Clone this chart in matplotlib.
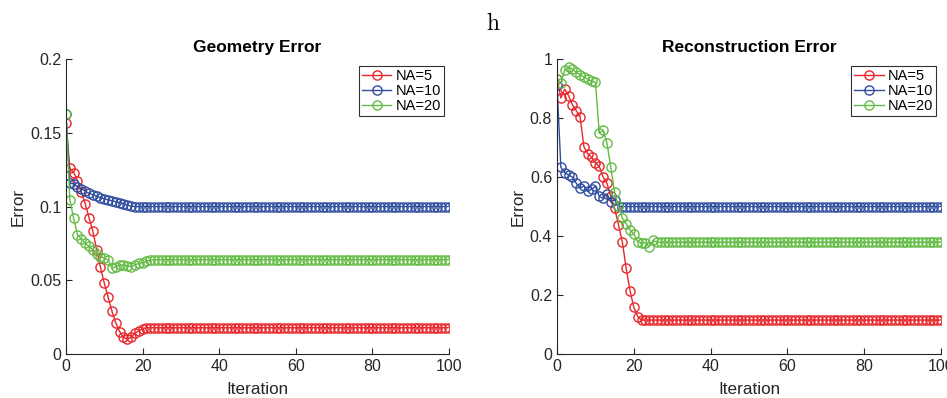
import numpy as np
import matplotlib
matplotlib.use("Agg")
import matplotlib.pyplot as plt

iterations = np.arange(0, 101)

# Geometry error (left panel)
geo_na5_head = [0.1566, 0.126, 0.123, 0.1176, 0.110, 0.102, 0.0925, 0.0835, 0.0706, 0.0588,
                0.048, 0.0385, 0.029, 0.021, 0.0152, 0.0113, 0.010, 0.0113, 0.014, 0.0158,
                0.0172, 0.0178]
geo_na5_tail = 0.0178
geo_na10_head = [0.163, 0.1158, 0.1154, 0.1135, 0.112, 0.1105, 0.109, 0.108, 0.107, 0.106,
                 0.1053, 0.1045, 0.104, 0.1032, 0.1025, 0.102, 0.101, 0.1003, 0.1]
geo_na10_tail = 0.1
geo_na20_head = [0.163, 0.1045, 0.092, 0.0808, 0.078, 0.075, 0.073, 0.0706, 0.068, 0.066,
                 0.065, 0.0638, 0.058, 0.0593, 0.0604, 0.0604, 0.0597, 0.0593, 0.0604, 0.0615,
                 0.062, 0.063, 0.0636, 0.064]
geo_na20_tail = 0.064

# Reconstruction error (right panel)
rec_na5_head = [0.932, 0.868, 0.898, 0.876, 0.845, 0.825, 0.805, 0.703, 0.679, 0.667,
                0.647, 0.636, 0.600, 0.579, 0.534, 0.494, 0.438, 0.381, 0.291, 0.215,
                0.158, 0.127, 0.115]
rec_na5_tail = 0.115
rec_na10_head = [0.913, 0.633, 0.615, 0.607, 0.600, 0.579, 0.562, 0.570, 0.551, 0.559,
                 0.568, 0.534, 0.528, 0.543, 0.517, 0.523, 0.502, 0.5]
rec_na10_tail = 0.5
rec_na20_head = [0.932, 0.918, 0.962, 0.973, 0.966, 0.955, 0.947, 0.939, 0.932, 0.924,
                 0.921, 0.749, 0.758, 0.715, 0.633, 0.548, 0.502, 0.460, 0.441, 0.421,
                 0.407, 0.381, 0.376, 0.378, 0.364, 0.385, 0.379]
rec_na20_tail = 0.379

labels = ["NA=5", "NA=10", "NA=20"]
colors = ["#e8262b", "#2f4e9f", "#63bb45"]


def full(head, tail):
    return np.array(list(head) + [tail] * (len(iterations) - len(head)))


plt.rcParams['font.family'] = ['Liberation Sans', 'DejaVu Sans']
plt.rcParams['mathtext.fontset'] = 'cm'

fig = plt.figure(figsize=(9.47, 3.98), dpi=100)
axL = fig.add_axes([0.0697, 0.1106, 0.4044, 0.741])
axR = fig.add_axes([0.5882, 0.1106, 0.4055, 0.741])

gray = (0.15, 0.15, 0.15)
panels = [
    (axL, [full(geo_na5_head, geo_na5_tail), full(geo_na10_head, geo_na10_tail),
           full(geo_na20_head, geo_na20_tail)],
     "Geometry Error", (0, 0.2), [0, 0.05, 0.1, 0.15, 0.2], ["0", "0.05", "0.1", "0.15", "0.2"]),
    (axR, [full(rec_na5_head, rec_na5_tail), full(rec_na10_head, rec_na10_tail),
           full(rec_na20_head, rec_na20_tail)],
     "Reconstruction Error", (0, 1), [0, 0.2, 0.4, 0.6, 0.8, 1], ["0", "0.2", "0.4", "0.6", "0.8", "1"]),
]

for ax, series, title, ylim, yt, ytl in panels:
    for s, lab, c in zip(series, labels, colors):
        ax.plot(iterations, s, '-o', color=c, mfc='none', mec=c, ms=6.6, lw=1.0, mew=1.0, label=lab)
    ax.set_xlim(0, 100)
    ax.set_ylim(*ylim)
    ax.set_xticks([0, 20, 40, 60, 80, 100])
    ax.set_yticks(yt)
    ax.set_yticklabels(ytl)
    ax.set_title(title, fontsize=12.5, fontweight='bold', color='black', pad=5)
    ax.set_xlabel("Iteration", fontsize=12.3, color=gray, labelpad=6)
    ax.set_ylabel("Error", fontsize=12.3, color=gray, labelpad=3)
    for sp in ['top', 'right']:
        ax.spines[sp].set_visible(False)
    for sp in ['left', 'bottom']:
        ax.spines[sp].set_color(gray)
        ax.spines[sp].set_linewidth(0.8)
    ax.tick_params(direction='in', length=4, width=0.8, colors=gray, labelsize=11.5)
    leg = ax.legend(loc='upper right', bbox_to_anchor=(0.995, 0.985), fontsize=10.5, frameon=True,
                    fancybox=False, edgecolor='black', handlelength=2.0, handletextpad=0.3,
                    borderpad=0.2, labelspacing=0.05, borderaxespad=0.2)
    leg.get_frame().set_linewidth(0.8)

fig.text(0.5205, 0.94, r'$\mathrm{h}$', fontsize=17, ha='center', va='center')

fig.savefig("out.png", dpi=100)
